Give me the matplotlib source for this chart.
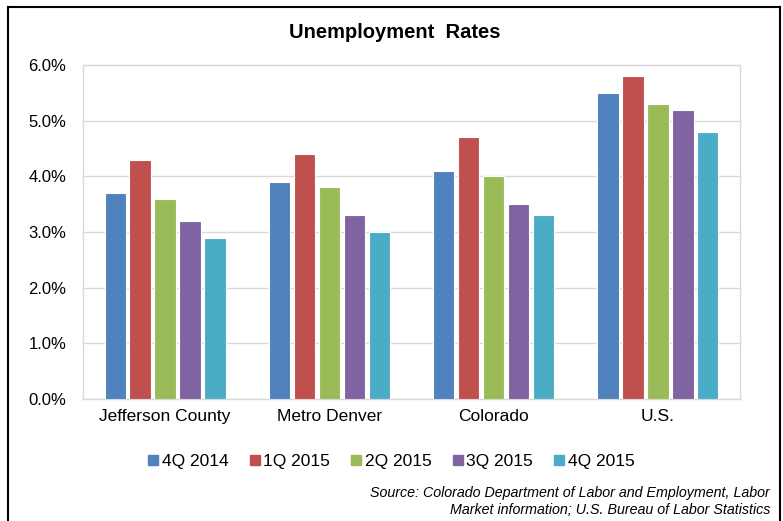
import matplotlib
matplotlib.use("Agg")
import matplotlib.pyplot as plt
import numpy as np
from matplotlib.lines import Line2D

plt.rcParams['font.family'] = ['Liberation Sans', 'DejaVu Sans']

categories = ["Jefferson County", "Metro Denver", "Colorado", "U.S."]
series_names = ["4Q 2014", "1Q 2015", "2Q 2015", "3Q 2015", "4Q 2015"]
values = {
    "4Q 2014": [3.7, 3.9, 4.1, 5.5],
    "1Q 2015": [4.3, 4.4, 4.7, 5.8],
    "2Q 2015": [3.6, 3.8, 4.0, 5.3],
    "3Q 2015": [3.2, 3.3, 3.5, 5.2],
    "4Q 2015": [2.9, 3.0, 3.3, 4.8],
}
colors = ["#4F81BD", "#C0504D", "#9BBB59", "#8064A2", "#4BACC6"]
yticks = [0, 1, 2, 3, 4, 5, 6]

fig = plt.figure(figsize=(7.83, 5.21), dpi=100)
ax = fig.add_axes([83/783, 1-399/521, (740-83)/783, (399-65)/521])

x = np.arange(len(categories))
step = 0.152
bw = 0.13
for i, name in enumerate(series_names):
    ax.bar(x + (i-2)*step, values[name], width=bw, color=colors[i],
           edgecolor="white", linewidth=0.8, zorder=3)

ax.set_xlim(-0.5, len(categories)-0.5)
ax.set_ylim(0, 6)
ax.set_yticks(yticks)
ax.set_yticklabels([f"{v:.1f}%" for v in yticks], fontsize=12)
ax.set_xticks(x)
ax.set_xticklabels(categories, fontsize=12.5)
ax.tick_params(axis='y', length=0, pad=12)
ax.tick_params(axis='x', length=0, pad=7)
ax.grid(axis='y', color="#D9D9D9", linewidth=1, zorder=0)
for s in ax.spines.values():
    s.set_color("#D9D9D9")
    s.set_linewidth(1)

fig.text(395/783, 1-33/521, "Unemployment  Rates", ha='center', va='center',
         fontsize=14.5, fontweight='bold')

handles = [Line2D([0], [0], marker='s', linestyle='none', markersize=7,
                  markerfacecolor=c, markeredgecolor=c) for c in colors]
fig.legend(handles, series_names, loc='center', bbox_to_anchor=(391/783, 1-461/521),
           ncol=5, frameon=False, fontsize=12.5, handletextpad=0.15,
           columnspacing=1.15, handlelength=0.7)

fig.text(770/783, 1-493/521, "Source: Colorado Department of Labor and Employment, Labor",
         ha='right', va='center', fontsize=10.3, style='italic')
fig.text(770/783, 1-510/521, "Market information; U.S. Bureau of Labor Statistics",
         ha='right', va='center', fontsize=10.3, style='italic')

# outer frame (left, top, right)
fig.add_artist(Line2D([8/783, 8/783], [0, 1-7/521], color='black', linewidth=1.5,
                      transform=fig.transFigure))
fig.add_artist(Line2D([8/783, 780/783], [1-7/521, 1-7/521], color='black', linewidth=1.5,
                      transform=fig.transFigure))
fig.add_artist(Line2D([780/783, 780/783], [0, 1-7/521], color='black', linewidth=1.5,
                      transform=fig.transFigure))

fig.savefig("out.png", dpi=100)
